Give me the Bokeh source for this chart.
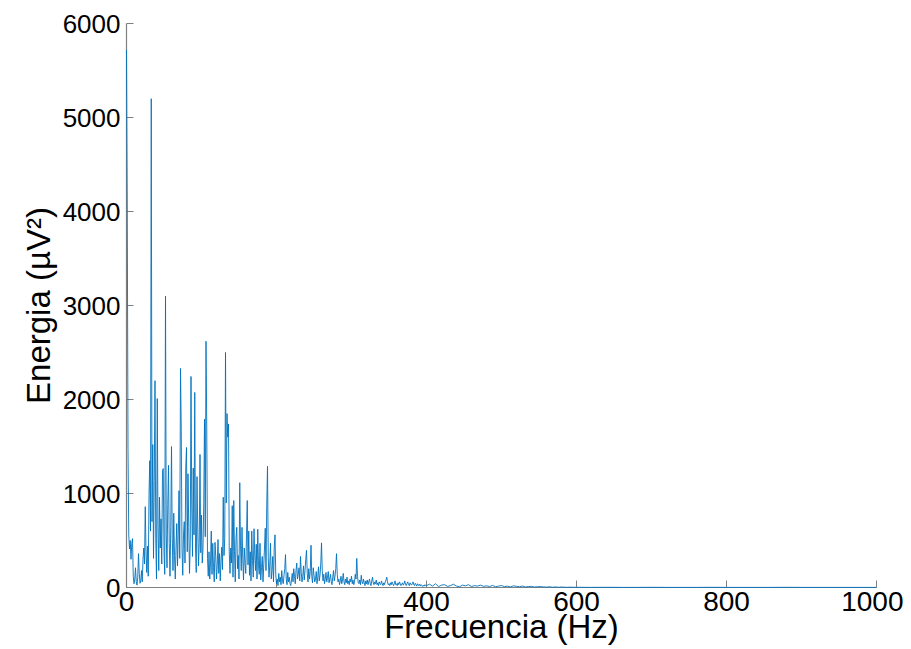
import numpy as np
from bokeh.plotting import figure
from bokeh.models import Range1d, FixedTicker
from bokeh.embed import file_html
from bokeh.resources import INLINE

# ---- data ----
# 0..399 Hz, 1 Hz resolution
freq_main = np.arange(0, 400)
energy_main = [
    5720, 4050, 1480, 560, 410, 500, 300, 470, 520, 120, 40, 90, 210, 60, 25, 110, 360, 150, 45, 70,
    180, 60, 300, 420, 250, 860, 380, 160, 440, 120, 980, 1350, 600, 5200, 700, 1520, 310, 1140, 2200, 520,
    90, 2010, 640, 180, 960, 420, 730, 250, 1245, 1265, 380, 140, 3100, 560, 210, 880, 1300, 470, 120, 640,
    1500, 520, 180, 790, 340, 90, 420, 680, 230, 560, 1030, 310, 2330, 1670, 420, 130, 560, 700, 260, 1270,
    1490, 380, 1210, 640, 150, 480, 2245, 870, 330, 1270, 560, 2075, 420, 160, 1180, 620, 230, 480, 1415, 370,
    770, 260, 420, 890, 1790, 540, 2620, 1700, 310, 120, 380, 90, 260, 600, 140, 470, 210, 60, 480, 330,
    90, 240, 510, 150, 360, 70, 280, 430, 190, 960, 340, 520, 2500, 900, 1850, 1600, 1740, 380, 150, 420,
    260, 870, 110, 925, 380, 60, 520, 640, 200, 340, 90, 1115, 450, 180, 640, 310, 80, 420, 260, 150,
    560, 925, 240, 600, 130, 380, 70, 600, 290, 110, 625, 340, 180, 460, 90, 620, 230, 140, 470, 80,
    210, 330, 60, 240, 420, 630, 180, 880, 1290, 320, 110, 240, 470, 90, 180, 330, 60, 430, 560, 140,
    40, 90, 20, 150, 60, 110, 30, 180, 70, 40, 130, 200, 350, 90, 30, 160, 60, 110, 40, 20,
    80, 150, 60, 200, 120, 40, 180, 260, 90, 140, 210, 70, 330, 160, 60, 120, 230, 80, 180, 300,
    395, 150, 60, 200, 90, 170, 450, 120, 50, 210, 130, 60, 90, 170, 40, 110, 220, 70, 130, 250,
    475, 180, 70, 140, 40, 90, 160, 60, 110, 170, 50, 90, 140, 60, 30, 110, 180, 70, 120, 200,
    360, 140, 60, 90, 30, 70, 120, 40, 80, 150, 60, 30, 90, 50, 110, 40, 70, 30, 90, 60,
    120, 40, 80, 30, 60, 140, 90, 310, 120, 50, 40, 80, 30, 130, 60, 40, 90, 50, 20, 70,
    40, 80, 30, 60, 90, 40, 20, 70, 110, 50, 30, 60, 40, 80, 30, 50, 20, 60, 40, 30,
    70, 40, 20, 50, 30, 60, 80, 110, 60, 30, 40, 20, 50, 30, 60, 40, 20, 40, 70, 30,
    40, 20, 50, 30, 60, 40, 20, 35, 50, 25, 40, 70, 30, 20, 45, 60, 30, 20, 50, 35,
    25, 40, 60, 30, 20, 45, 30, 15, 40, 25, 20, 35, 15, 30, 20, 10, 25, 15, 30, 20,
]
# 400..596 Hz every 4 Hz, then 600..1000 Hz every 20 Hz
freq_tail = np.concatenate([np.arange(400, 600, 4), np.arange(600, 1001, 20)])
energy_tail = [
    20, 35, 15, 40, 10, 25, 30, 12, 20, 35,
    15, 8, 25, 18, 30, 10, 20, 15, 25, 12,
    18, 10, 22, 8, 15, 20, 10, 14, 6, 18,
    12, 8, 15, 6, 10, 12, 5, 8, 10, 6,
    4, 8, 3, 6, 2, 5, 3, 2, 4, 2,
    2, 1, 2, 1, 1, 2, 1, 1, 1, 2, 1, 1, 1, 1, 2, 1, 1, 1, 1, 1, 1,
]

x_ticks = [0, 200, 400, 600, 800, 1000]
y_ticks = [0, 1000, 2000, 3000, 4000, 5000, 6000]

freq = np.concatenate([freq_main, freq_tail])
energy = np.array(energy_main + energy_tail, dtype=float)

p = figure(width=903, height=649, output_backend="svg", toolbar_location=None,
           x_range=Range1d(0, 1000), y_range=Range1d(0, 6000),
           min_border_left=126, min_border_top=23, min_border_right=27, min_border_bottom=62)

p.line(freq, energy, line_color="#0072BD", line_width=0.9, level="overlay")

p.xgrid.visible = False
p.ygrid.visible = False
p.outline_line_color = None
p.background_fill_color = "white"
p.border_fill_color = "white"

p.xaxis.ticker = FixedTicker(ticks=x_ticks)
p.yaxis.ticker = FixedTicker(ticks=y_ticks)

for ax in (p.xaxis, p.yaxis):
    ax.axis_line_color = "#808080"
    ax.axis_line_width = 1.2
    ax.major_tick_line_color = "#808080"
    ax.major_tick_in = 7
    ax.major_tick_out = 0
    ax.minor_tick_line_color = None
    ax.major_label_text_color = "black"
    ax.major_label_text_font = "Liberation Sans"
    ax.axis_label_text_font = "Liberation Sans"
    ax.axis_label_text_font_style = "normal"
    ax.axis_label_text_color = "black"

p.xaxis.axis_label = "Frecuencia (Hz)"
p.yaxis.axis_label = "Energia (µV²)"
p.xaxis.major_label_text_font_size = "28px"
p.yaxis.major_label_text_font_size = "26px"
p.xaxis.axis_label_text_font_size = "33px"
p.yaxis.axis_label_text_font_size = "33px"
p.xaxis.major_label_standoff = 4
p.yaxis.major_label_standoff = 6
p.xaxis.axis_label_standoff = -6
p.yaxis.axis_label_standoff = 3

open("out.html", "w").write(file_html(p, INLINE))
